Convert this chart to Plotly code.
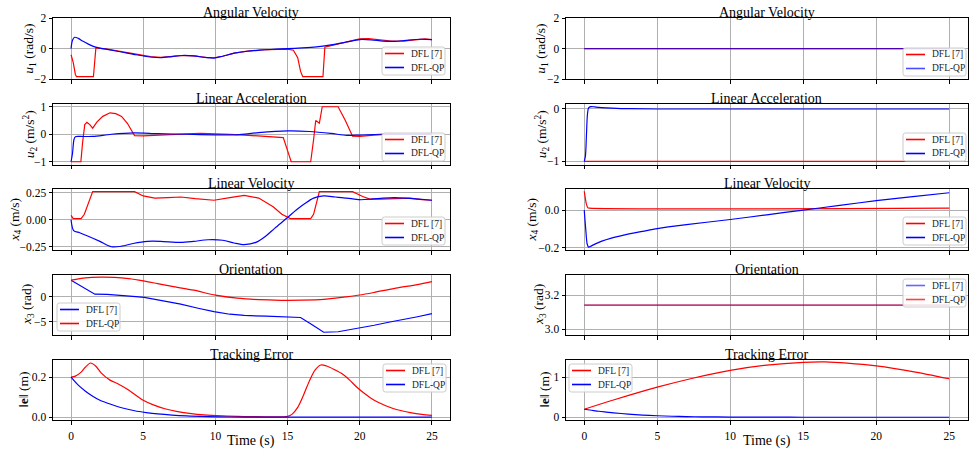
import plotly.graph_objects as go
from plotly.subplots import make_subplots

# ---------------- data ----------------
# Left column: scenario A
t_u1_dfl = [0, 0.15, 0.3, 0.38, 1.55, 1.72, 2.5, 3.5, 4.5, 5.5, 6.2, 7.0, 7.7, 8.5, 9.3, 9.9, 10.5, 11.3, 12.2, 13.1, 14.0, 15.0, 15.4, 15.7, 15.9, 16.05, 17.45, 17.58, 18.0, 19.0, 20.0, 20.6, 21.4, 22.2, 23.0, 24.0, 24.5, 25.0]
u1_dfl = [-0.4, -0.9, -1.7, -1.85, -1.85, 0.05, -0.03, -0.2, -0.38, -0.53, -0.58, -0.5, -0.45, -0.48, -0.58, -0.6, -0.5, -0.3, -0.16, -0.09, -0.05, -0.03, -0.1, -0.6, -1.5, -1.85, -1.85, 0.1, 0.2, 0.4, 0.64, 0.67, 0.6, 0.5, 0.5, 0.6, 0.65, 0.6]
t_u1_qp = [0, 0.1, 0.25, 0.5, 0.8, 1.2, 1.7, 2.5, 3.5, 4.5, 5.5, 6.2, 7.0, 7.7, 8.5, 9.3, 9.9, 10.5, 11.3, 12.2, 13.1, 14.0, 15.0, 16.0, 17.0, 18.0, 19.0, 20.0, 20.8, 21.6, 22.4, 23.2, 24.2, 25.0]
u1_qp = [0, 0.55, 0.75, 0.68, 0.5, 0.3, 0.1, -0.05, -0.22, -0.4, -0.55, -0.6, -0.52, -0.45, -0.48, -0.58, -0.62, -0.5, -0.3, -0.17, -0.1, -0.04, 0.0, 0.05, 0.12, 0.25, 0.42, 0.6, 0.58, 0.5, 0.48, 0.55, 0.62, 0.6]

t_u2_dfl = [0, 0.68, 0.8, 0.95, 1.1, 1.3, 1.5, 1.8, 2.2, 2.7, 3.1, 3.5, 3.9, 4.2, 4.4, 5, 6, 7, 8, 9, 10, 11, 12, 13, 14, 14.7, 15.25, 16.6, 16.8, 16.95, 17.2, 17.4, 18.5, 19.0, 19.5, 20.0, 21.0, 22, 23, 24, 25]
u2_dfl = [-1, -1, -0.3, 0.35, 0.43, 0.35, 0.22, 0.45, 0.65, 0.78, 0.75, 0.65, 0.4, 0.1, -0.05, -0.06, -0.03, -0.01, 0.01, 0.03, 0.02, 0, -0.03, -0.06, -0.1, -0.12, -1, -1, -0.2, 0.5, 0.4, 1.0, 1.0, 0.5, -0.07, -0.08, -0.03, 0, 0, 0, 0]
t_u2_qp = [0, 0.1, 0.2, 0.3, 0.6, 1.5, 2.8, 4.4, 6, 8, 9.9, 11.5, 13, 15, 16.5, 18, 19.1, 20, 21.4, 23, 25]
u2_qp = [-1, -0.7, -0.2, -0.09, -0.08, -0.08, 0.0, 0.05, 0.02, 0, -0.02, -0.02, 0.06, 0.12, 0.1, 0.03, -0.04, -0.03, 0.0, 0, 0]

t_x4_dfl = [0, 0.15, 0.7, 0.92, 1.5, 4.4, 5.0, 5.8, 6.7, 7.6, 8.6, 9.9, 11, 12, 13, 14, 14.6, 15.2, 16.6, 16.8, 17.2, 19.5, 20.2, 20.7, 21.5, 22.5, 23.5, 24.3, 25]
x4_dfl = [0.04, 0.01, 0.01, 0.05, 0.26, 0.26, 0.22, 0.2, 0.205, 0.21, 0.195, 0.18, 0.205, 0.225, 0.2, 0.12, 0.05, 0.01, 0.01, 0.05, 0.26, 0.26, 0.215, 0.19, 0.19, 0.195, 0.2, 0.185, 0.18]
t_x4_qp = [0, 0.18, 0.6, 1.15, 2, 2.8, 3.5, 4.3, 5.3, 6.2, 7.6, 8.5, 9.5, 10.5, 11.3, 12, 12.8, 13.5, 14.1, 15, 15.6, 16.2, 16.8, 17.5, 18.3, 19.1, 20, 20.8, 21.6, 22.4, 23.2, 24.1, 25]
x4_qp = [0.0, -0.1, -0.12, -0.15, -0.2, -0.25, -0.245, -0.22, -0.2, -0.2, -0.21, -0.2, -0.185, -0.19, -0.215, -0.23, -0.21, -0.15, -0.08, 0.02, 0.09, 0.15, 0.2, 0.22, 0.21, 0.2, 0.185, 0.19, 0.2, 0.205, 0.2, 0.19, 0.18]

t_x3_dfl = [0, 1.65, 2.5, 3.45, 4.5, 5.07, 6.3, 7.6, 8.8, 9.9, 11, 12, 13.5, 15, 15.9, 16.7, 17.5, 18.5, 20, 21, 22, 23, 24, 25]
x3_dfl = [3.3, 0.5, 0.45, 0.3, 0.0, -0.15, -0.8, -1.5, -2.3, -3.0, -3.5, -3.75, -3.9, -4.0, -4.15, -5.6, -7.1, -7.0, -6.3, -5.7, -5.1, -4.6, -4.0, -3.4]
t_x3_qp = [0, 1, 2, 3, 4, 5, 6, 7, 8.5, 10, 11.5, 13, 14.5, 16, 17.5, 19, 20, 21, 22.5, 24, 25]
x3_qp = [3.3, 3.75, 3.9, 3.85, 3.6, 3.15, 2.6, 2.05, 1.3, 0.3, -0.3, -0.6, -0.72, -0.7, -0.55, -0.05, 0.33, 0.85, 1.7, 2.4, 3.0]

t_e_dfl = [0, 0.3, 0.7, 1.0, 1.35, 1.7, 2.1, 2.7, 3.3, 3.9, 4.4, 5.0, 5.7, 6.5, 7.3, 8.2, 9.2, 10.5, 12, 13.5, 14.6, 15.0, 15.3, 15.7, 16.1, 16.5, 16.9, 17.3, 17.7, 18.3, 18.8, 19.3, 19.8, 20.4, 21.0, 21.8, 22.6, 23.5, 24.3, 25]
e_dfl = [0.2, 0.205, 0.225, 0.25, 0.27, 0.255, 0.22, 0.185, 0.165, 0.14, 0.115, 0.085, 0.062, 0.043, 0.03, 0.02, 0.012, 0.007, 0.004, 0.003, 0.003, 0.005, 0.015, 0.05, 0.11, 0.18, 0.235, 0.26, 0.255, 0.235, 0.215, 0.185, 0.15, 0.115, 0.085, 0.058, 0.038, 0.024, 0.015, 0.01]
t_e_qp = [0, 0.5, 1.0, 1.5, 2.0, 2.8, 3.5, 4.4, 5.2, 6.0, 7.0, 8.0, 9.5, 11, 13, 15, 17, 20, 25]
e_qp = [0.2, 0.16, 0.13, 0.105, 0.085, 0.064, 0.048, 0.033, 0.024, 0.017, 0.011, 0.007, 0.004, 0.002, 0.0015, 0.001, 0.001, 0.001, 0.001]

# Right column: scenario B
tb_u1 = [0, 25]
u1b_dfl = [0, 0]
u1b_qp = [0, 0]

tb_u2_dfl = [0, 25]
u2b_dfl = [-1, -1]
tb_u2_qp = [0, 0.08, 0.15, 0.22, 0.3, 0.45, 0.7, 1.0, 1.5, 2.2, 3.0, 5, 25]
u2b_qp = [-1, -0.9, -0.5, -0.1, 0.02, 0.045, 0.04, 0.03, 0.02, 0.01, 0.005, 0.0, 0.0]

tb_x4_dfl = [0, 0.08, 0.15, 0.25, 0.35, 25]
x4b_dfl = [0.1, 0.06, 0.03, 0.012, 0.01, 0.01]
tb_x4_qp = [0, 0.1, 0.2, 0.3, 0.5, 0.8, 1.2, 1.8, 2.7, 4, 5, 7, 10, 12.5, 15, 17.5, 20, 22.5, 25]
x4b_qp = [0.0, -0.1, -0.18, -0.197, -0.19, -0.178, -0.165, -0.15, -0.133, -0.113, -0.098, -0.077, -0.05, -0.025, 0.0, 0.025, 0.05, 0.072, 0.092]

tb_x3 = [0, 25]
x3b_dfl = [3.1416, 3.1416]
x3b_qp = [3.1416, 3.1416]

tb_e_dfl = [0, 2, 5, 7.5, 10, 12.5, 15, 16.5, 18, 20, 22.5, 25]
eb_dfl = [0.2, 0.43, 0.75, 0.98, 1.17, 1.3, 1.37, 1.38, 1.35, 1.28, 1.14, 0.96]
tb_e_qp = [0, 0.5, 1, 1.5, 2, 3, 4, 5, 6, 7, 8, 10, 12, 15, 25]
eb_qp = [0.2, 0.175, 0.15, 0.13, 0.11, 0.08, 0.055, 0.038, 0.026, 0.017, 0.011, 0.005, 0.002, 0.001, 0.0]

titles = ["Angular Velocity", "Linear Acceleration", "Linear Velocity", "Orientation", "Tracking Error"]
ylabels = ["<i>u</i><sub>1</sub> (rad/s)", "<i>u</i><sub>2</sub> (m/s<sup>2</sup>)",
           "<i>x</i><sub>4</sub> (m/s)", "<i>x</i><sub>3</sub> (rad)", "‖<b>e</b>‖ (m)"]
time_ticks = [0, 5, 10, 15, 20, 25]
name_a = "DFL [7]"
name_b = "DFL-QP"

RED = "#ff0000"
BLUE = "#0000ff"
BLUE_A = "rgba(0,0,255,0.7)"
FONT = "Liberation Serif"

W, H = 975, 449

# panel geometry in pixels
col_x = [(53, 450), (566, 967.5)]
row_y = [(18.3, 79), (104, 164.5), (189, 250), (275, 335), (360, 420)]
LEG_W, LEG_H = 63, 28

panels = {
    (1, 1): dict(tr=[(t_u1_dfl, u1_dfl, name_a, RED, "linear"), (t_u1_qp, u1_qp, name_b, BLUE, "spline")],
                 yr=[-2, 2], yt=[-2, 0, 2], fmt="d", leg=(445, 75, "right", "bottom"), ylx=30),
    (2, 1): dict(tr=[(t_u2_dfl, u2_dfl, name_a, RED, "linear"), (t_u2_qp, u2_qp, name_b, BLUE, "spline")],
                 yr=[-1.1, 1.1], yt=[-1, 0, 1], fmt="d", leg=(445, 161, "right", "bottom"), ylx=30),
    (3, 1): dict(tr=[(t_x4_dfl, x4_dfl, name_a, RED, "linear"), (t_x4_qp, x4_qp, name_b, BLUE, "spline")],
                 yr=[-0.28, 0.284], yt=[-0.25, 0, 0.25], fmt=".2f", leg=(445, 245, "right", "bottom"), ylx=15),
    (4, 1): dict(tr=[(t_x3_dfl, x3_dfl, name_a, BLUE, "linear"), (t_x3_qp, x3_qp, name_b, RED, "spline")],
                 yr=[-7.65, 4.33], yt=[-5, 0], fmt="d", leg=(57, 331, "left", "bottom"), ylx=27),
    (5, 1): dict(tr=[(t_e_dfl, e_dfl, name_a, RED, "spline"), (t_e_qp, e_qp, name_b, BLUE, "spline")],
                 yr=[-0.013, 0.285], yt=[0, 0.2], fmt=".1f", leg=(446, 364, "right", "top"), ylx=23),
    (1, 2): dict(tr=[(tb_u1, u1b_dfl, name_a, RED, "linear"), (tb_u1, u1b_qp, name_b, BLUE_A, "linear")],
                 yr=[-2, 2], yt=[-2, 0, 2], fmt="d", leg=(966, 76, "right", "bottom"), ylx=542),
    (2, 2): dict(tr=[(tb_u2_dfl, u2b_dfl, name_a, RED, "linear"), (tb_u2_qp, u2b_qp, name_b, BLUE, "spline")],
                 yr=[-1.06, 0.095], yt=[-1, 0], fmt="d", leg=(966, 161, "right", "bottom"), ylx=542),
    (3, 2): dict(tr=[(tb_x4_dfl, x4b_dfl, name_a, RED, "spline"), (tb_x4_qp, x4b_qp, name_b, BLUE, "spline")],
                 yr=[-0.212, 0.112], yt=[-0.2, 0], fmt=".1f", leg=(966, 245, "right", "bottom"), ylx=532),
    (4, 2): dict(tr=[(tb_x3, x3b_dfl, name_a, "rgba(0,0,255,0.6)", "linear"), (tb_x3, x3b_qp, name_b, "rgba(255,0,0,0.75)", "linear")],
                 yr=[2.967, 3.317], yt=[3.0, 3.2], fmt=".1f", leg=(966, 279, "right", "top"), ylx=539),
    (5, 2): dict(tr=[(tb_e_dfl, eb_dfl, name_a, RED, "spline"), (tb_e_qp, eb_qp, name_b, BLUE, "spline")],
                 yr=[-0.068, 1.428], yt=[0, 1], fmt="d", leg=(569, 364, "left", "top"), ylx=544),
}

fig = make_subplots(rows=5, cols=2)
annotations = []
shapes = []


def px(x):
    return x / W


def py(y):
    return 1 - y / H


def rounded_rect(l, t, w, h, r=2.5):
    x0, x1, y0, y1 = l, l + w, t, t + h
    pts = [
        f"M{px(x0 + r)},{py(y0)}", f"L{px(x1 - r)},{py(y0)}", f"Q{px(x1)},{py(y0)} {px(x1)},{py(y0 + r)}",
        f"L{px(x1)},{py(y1 - r)}", f"Q{px(x1)},{py(y1)} {px(x1 - r)},{py(y1)}",
        f"L{px(x0 + r)},{py(y1)}", f"Q{px(x0)},{py(y1)} {px(x0)},{py(y1 - r)}",
        f"L{px(x0)},{py(y0 + r)}", f"Q{px(x0)},{py(y0)} {px(x0 + r)},{py(y0)}", "Z"]
    return " ".join(pts)


for (r, c), p in panels.items():
    for (tx, ty, nm, colr, shape) in p["tr"]:
        fig.add_trace(go.Scatter(x=tx, y=ty, mode="lines", name=nm,
                                 line=dict(color=colr, width=1.2, shape=shape, smoothing=0.8),
                                 showlegend=False),
                      row=r, col=c)
    x0, x1 = col_x[c - 1]
    y0, y1 = row_y[r - 1]
    fig.update_xaxes(domain=[x0 / W, x1 / W], range=[-1.25, 26.25], tickvals=time_ticks,
                     showticklabels=(r == 5), row=r, col=c)
    fig.update_yaxes(domain=[1 - y1 / H, 1 - y0 / H], range=p["yr"], tickvals=p["yt"],
                     tickformat=p["fmt"], row=r, col=c)

    # legend box (matplotlib style: small, rounded, light border)
    lx, ly, xa, ya = p["leg"]
    left = lx - LEG_W if xa == "right" else lx
    top = ly - LEG_H if ya == "bottom" else ly
    shapes.append(dict(type="path", path=rounded_rect(left, top, LEG_W, LEG_H), xref="paper", yref="paper",
                       line=dict(color="#cccccc", width=1), fillcolor="rgba(255,255,255,0.85)", layer="above"))
    for i, (tx, ty, nm, colr, shape) in enumerate(p["tr"]):
        ey = top + 6.5 + i * 14
        shapes.append(dict(type="line", xref="paper", yref="paper",
                           x0=px(left + 3), x1=px(left + 22), y0=py(ey), y1=py(ey),
                           line=dict(color=colr, width=1.6), layer="above"))
        annotations.append(dict(text=nm, x=px(left + 27), y=py(ey), xref="paper", yref="paper",
                                showarrow=False, xanchor="left", yanchor="middle",
                                font=dict(family=FONT, size=9.5, color="#222222")))

    # subplot title
    annotations.append(dict(text=titles[r - 1], x=(x0 + x1) / 2 / W, y=1 - (y0 - 6) / H,
                            xref="paper", yref="paper", showarrow=False,
                            font=dict(family=FONT, size=14, color="#000"),
                            xanchor="center", yanchor="middle"))
    # y label
    annotations.append(dict(text=ylabels[r - 1], x=p["ylx"] / W, y=1 - (y0 + y1) / 2 / H,
                            xref="paper", yref="paper", showarrow=False, textangle=-90,
                            font=dict(family=FONT, size=13.5, color="#000"),
                            xanchor="center", yanchor="middle"))

for c in (1, 2):
    x0, x1 = col_x[c - 1]
    annotations.append(dict(text="Time (s)", x=(x0 + x1) / 2 / W, y=1 - 441 / H,
                            xref="paper", yref="paper", showarrow=False,
                            font=dict(family=FONT, size=14, color="#000"),
                            xanchor="center", yanchor="middle"))

axis_style = dict(showline=True, mirror=True, linecolor="#000", linewidth=1,
                  ticks="outside", ticklen=3.5, tickwidth=0.8, tickcolor="#000",
                  showgrid=True, gridcolor="#b0b0b0", gridwidth=0.8, zeroline=False,
                  automargin=False,
                  tickfont=dict(family=FONT, size=11.5, color="#000"))
fig.update_xaxes(**axis_style)
fig.update_xaxes(ticklabelstandoff=2)
fig.update_yaxes(**axis_style)

fig.update_layout(width=W, height=H, autosize=False,
                  margin=dict(l=0, r=0, t=0, b=0, pad=0, autoexpand=False),
                  plot_bgcolor="white", paper_bgcolor="white", showlegend=False,
                  annotations=annotations, shapes=shapes, font=dict(family=FONT))

fig.write_html("out.html")
